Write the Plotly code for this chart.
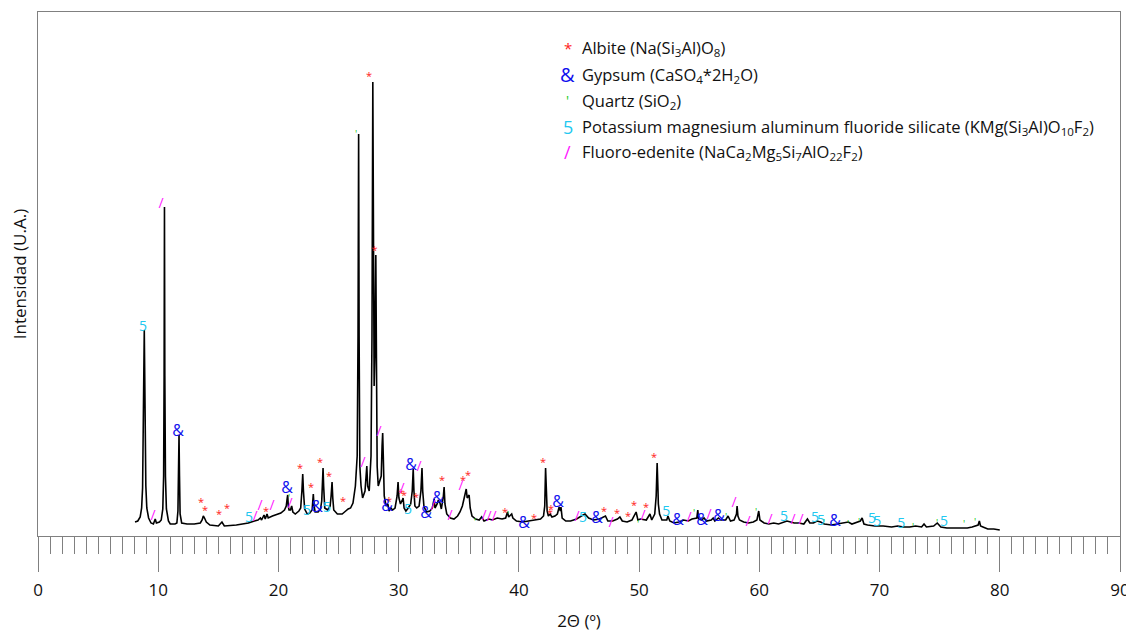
import plotly.graph_objects as go

# ---------------- Diffractogram trace (2theta, intensity in arbitrary units) ----------------
pattern_points = [
    (8.07, 14), (8.30, 15), (8.50, 19), (8.62, 28), (8.70, 48), (8.76, 100), (8.80, 170), (8.84, 206),
    (8.87, 170), (8.91, 100), (8.97, 50), (9.05, 28), (9.20, 18), (9.40, 13), (9.60, 12), (9.75, 17),
    (9.85, 13), (10.10, 14), (10.25, 16), (10.38, 27), (10.45, 60), (10.49, 160), (10.52, 329),
    (10.55, 160), (10.60, 60), (10.68, 27), (10.85, 15), (11.00, 12), (11.40, 12), (11.55, 13),
    (11.64, 25), (11.69, 60), (11.73, 101), (11.77, 60), (11.82, 22), (11.95, 13), (12.40, 12),
    (13.00, 12), (13.50, 13), (13.65, 16), (13.75, 20), (13.85, 18), (14.00, 14), (14.30, 11),
    (15.00, 10), (15.30, 14), (15.50, 10), (16.50, 11), (17.00, 12), (17.50, 13), (18.00, 15),
    (18.30, 16), (18.50, 18), (18.60, 16), (18.80, 21), (18.90, 17), (19.05, 22), (19.15, 18),
    (19.50, 20), (19.80, 21), (20.20, 23), (20.50, 26), (20.65, 30), (20.73, 38), (20.77, 41),
    (20.82, 30), (20.88, 26), (21.00, 26), (21.10, 30), (21.20, 24), (21.40, 22), (21.70, 25),
    (21.85, 28), (21.95, 45), (22.02, 62), (22.08, 45), (22.18, 27), (22.40, 22), (22.60, 23),
    (22.80, 26), (22.87, 40), (22.90, 42), (22.95, 32), (23.05, 24), (23.30, 24), (23.50, 27),
    (23.60, 35), (23.67, 60), (23.71, 68), (23.76, 50), (23.85, 28), (24.10, 26), (24.30, 30),
    (24.38, 40), (24.46, 54), (24.52, 38), (24.60, 26), (24.90, 22), (25.30, 22), (25.50, 24),
    (25.80, 27), (26.00, 28), (26.20, 33), (26.40, 50), (26.55, 80), (26.62, 200), (26.67, 402),
    (26.71, 200), (26.77, 70), (26.87, 50), (27.00, 38), (27.20, 45), (27.30, 65), (27.35, 70),
    (27.42, 50), (27.55, 45), (27.70, 80), (27.78, 200), (27.85, 454), (27.90, 250), (27.96, 150),
    (28.02, 180), (28.10, 281), (28.15, 180), (28.21, 70), (28.30, 50), (28.40, 55), (28.55, 60),
    (28.62, 90), (28.67, 103), (28.72, 80), (28.80, 40), (28.95, 30), (29.10, 32), (29.20, 25),
    (29.35, 28), (29.50, 26), (29.70, 28), (29.87, 40), (29.95, 54), (30.02, 38), (30.15, 32),
    (30.30, 36), (30.37, 38), (30.45, 28), (30.60, 25), (30.80, 28), (31.00, 32), (31.13, 45),
    (31.21, 67), (31.27, 45), (31.35, 30), (31.50, 28), (31.70, 30), (31.85, 45), (31.94, 68),
    (32.00, 45), (32.10, 30), (32.30, 24), (32.60, 25), (32.80, 28), (32.90, 33), (32.95, 37),
    (33.02, 28), (33.20, 32), (33.30, 36), (33.44, 33), (33.55, 27), (33.65, 34), (33.72, 40),
    (33.78, 49), (33.85, 32), (34.00, 22), (34.30, 18), (34.60, 17), (34.90, 20), (35.10, 24),
    (35.30, 30), (35.45, 38), (35.55, 46), (35.62, 47), (35.70, 38), (35.80, 41), (35.86, 41),
    (35.95, 28), (36.10, 20), (36.40, 17), (36.70, 16), (36.90, 19), (37.10, 15), (37.50, 17),
    (37.80, 16), (38.20, 18), (38.60, 17), (38.90, 18), (39.05, 24), (39.15, 19), (39.40, 22),
    (39.50, 18), (39.80, 15), (40.30, 14), (40.80, 15), (41.30, 16), (41.80, 17), (42.05, 20),
    (42.15, 30), (42.22, 68), (42.28, 40), (42.35, 25), (42.45, 20), (42.60, 22), (42.75, 19),
    (43.00, 20), (43.20, 22), (43.35, 29), (43.45, 25), (43.50, 29), (43.60, 18), (43.90, 15),
    (44.30, 15), (44.80, 17), (45.20, 20), (45.50, 22), (45.80, 18), (46.20, 16), (46.70, 17),
    (47.20, 20), (47.40, 15), (47.80, 15), (48.20, 17), (48.40, 19), (48.60, 15), (49.00, 14),
    (49.40, 16), (49.75, 24), (49.90, 16), (50.10, 17), (50.60, 16), (50.90, 22), (51.05, 16),
    (51.30, 22), (51.42, 40), (51.50, 73), (51.56, 50), (51.60, 32), (51.70, 22), (51.90, 16),
    (52.30, 16), (52.40, 20), (52.55, 15), (52.90, 13), (53.30, 14), (53.70, 16), (54.10, 15),
    (54.40, 17), (54.80, 18), (54.88, 26), (54.95, 17), (55.20, 16), (55.40, 18), (55.60, 15),
    (56.00, 16), (56.16, 18), (56.30, 15), (56.60, 18), (56.80, 16), (57.20, 16), (57.40, 20),
    (57.60, 15), (57.90, 16), (58.10, 22), (58.15, 30), (58.22, 20), (58.35, 16), (58.70, 14),
    (59.10, 13), (59.50, 14), (59.80, 16), (59.95, 25), (60.05, 16), (60.40, 13), (60.80, 12),
    (61.20, 13), (61.60, 12), (62.00, 14), (62.30, 15), (62.60, 14), (62.90, 13), (63.30, 13),
    (63.70, 12), (64.00, 17), (64.20, 13), (64.50, 13), (64.80, 15), (65.10, 14), (65.40, 12),
    (66.00, 11), (66.50, 12), (66.80, 13), (67.40, 14), (67.70, 12), (68.00, 13), (68.40, 15),
    (68.55, 18), (68.70, 12), (69.00, 11), (69.60, 10), (70.30, 10), (71.00, 9), (71.50, 10),
    (72.00, 9), (72.50, 9), (73.00, 10), (73.50, 9), (73.70, 12), (73.90, 9), (74.50, 10),
    (74.80, 13), (75.10, 9), (75.60, 8), (76.20, 8), (76.80, 8), (77.30, 8), (77.70, 9),
    (78.20, 11), (78.30, 15), (78.40, 10), (78.60, 9), (79.00, 7), (79.50, 7), (80.00, 6),
]
two_theta = [p[0] for p in pattern_points]
intensity = [p[1] for p in pattern_points]

# ---------------- Phase identification markers ----------------
albite_x = [13.56, 13.89, 15.06, 15.72, 18.97, 21.80, 22.71, 23.46, 24.21, 25.37, 27.54, 28.00,
            29.20, 30.20, 30.45, 31.45, 33.61, 35.36, 35.77, 38.85, 41.26, 42.01, 42.68, 42.60,
            47.09, 48.17, 49.08, 49.58, 50.58, 51.25]
albite_y = [33, 25, 21, 27, 24, 67, 48, 73, 59, 34, 459, 285,
            34, 42, 40, 38, 55, 55, 60, 23, 17, 73, 26, 22,
            24, 22, 19, 30, 28, 78]

gypsum_x = [11.65, 20.72, 23.21, 29.03, 31.03, 32.28, 33.28, 40.43, 43.26, 46.51, 53.24, 55.24,
            56.66, 66.31]
gypsum_y = [104, 47, 28, 29, 70, 22, 37, 12, 33, 17, 15, 15, 19, 14]

quartz_x = [26.46, 20.88, 36.36, 39.10, 49.92, 54.58, 57.24, 59.73, 65.39, 67.39, 68.30, 72.80,
            74.79, 77.04, 77.95]
quartz_y = [401, 37, 13, 20, 11, 22, 18, 23, 12, 11, 13, 8, 12, 11, 13]

mica_x = [8.74, 17.55, 22.38, 24.04, 30.78, 45.34, 52.25, 62.06, 64.64, 65.14, 69.38, 69.80,
          71.80, 75.37]
mica_y = [209, 18, 25, 28, 26, 18, 24, 19, 18, 15, 17, 14, 12, 14]

edenite_x = [10.23, 9.57, 18.05, 18.47, 19.47, 20.97, 27.04, 28.37, 30.28, 31.70, 32.86, 34.28,
             35.19, 37.10, 37.52, 37.94, 44.84, 47.67, 50.33, 54.16, 55.82, 57.90, 59.07, 60.90,
             62.81, 63.48]
edenite_y = [332, 20, 19, 30, 30, 32, 73, 104, 47, 69, 30, 20,
             50, 20, 19, 19, 19, 13, 20, 18, 21, 33, 14, 16,
             16, 16]

phase_symbols = ["*", "&", "'", "5", "/"]
phase_colors = ["#ff2020", "#1010ee", "#22cc22", "#22c8f0", "#ff20ff"]
phase_labels = [
    "Albite (Na(Si<sub>3</sub>Al)O<sub>8</sub>)",
    "Gypsum (CaSO<sub>4</sub>*2H<sub>2</sub>O)",
    "Quartz (SiO<sub>2</sub>)",
    "Potassium magnesium aluminum fluoride silicate (KMg(Si<sub>3</sub>Al)O<sub>10</sub>F<sub>2</sub>)",
    "Fluoro-edenite (NaCa<sub>2</sub>Mg<sub>5</sub>Si<sub>7</sub>AlO<sub>22</sub>F<sub>2</sub>)",
]
phase_sizes = [11, 16, 10, 14, 14]

x_ticks = [0, 10, 20, 30, 40, 50, 60, 70, 80, 90]

FONT = "Open Sans"

fig = go.Figure()
fig.add_trace(go.Scatter(x=two_theta, y=intensity, mode="lines",
                         line=dict(color="black", width=1.6), showlegend=False,
                         hoverinfo="skip"))

phase_data = [(albite_x, albite_y), (gypsum_x, gypsum_y), (quartz_x, quartz_y),
              (mica_x, mica_y), (edenite_x, edenite_y)]
for (px, py), sym, col, sz in zip(phase_data, phase_symbols, phase_colors, phase_sizes):
    fig.add_trace(go.Scatter(x=px, y=py, mode="text", text=[sym] * len(px),
                             textposition="middle center",
                             textfont=dict(color=col, size=sz, family=FONT),
                             showlegend=False, hoverinfo="skip"))

# Custom legend (glyph + label)
legend_rows_y = [0.9313, 0.8798, 0.8302, 0.7805, 0.7328]
for sym, col, sz, lab, yy in zip(phase_symbols, phase_colors, phase_sizes, phase_labels, legend_rows_y):
    fig.add_annotation(x=0.4898, y=yy, xref="paper", yref="paper", text=sym, showarrow=False,
                       font=dict(color=col, size=sz + 4, family=FONT), xanchor="center", yanchor="middle")
    fig.add_annotation(x=0.5009, y=yy, xref="paper", yref="paper", text=lab, showarrow=False,
                       font=dict(color="#111111", size=16.5, family=FONT), xanchor="left", yanchor="middle")

# The page body adds an 8px offset, so margins are reduced accordingly.
fig.update_layout(
    width=1134, height=630,
    margin=dict(l=30, r=22, t=4, b=102),
    paper_bgcolor="white", plot_bgcolor="white",
    font=dict(family=FONT, color="#111111"),
)
fig.update_xaxes(
    range=[0, 90], tickvals=x_ticks, ticks="outside", ticklen=35, tickwidth=1,
    tickcolor="#808080", showline=True, linecolor="#808080", linewidth=1, mirror=True,
    showgrid=False, zeroline=False, tickfont=dict(size=17, color="#111111"),
    ticklabelstandoff=4, automargin=False,
    minor=dict(dtick=1, ticks="outside", ticklen=17, tickcolor="#808080", tickwidth=1, showgrid=False),
    title=dict(text="2Θ (º)", font=dict(size=17, color="#111111"), standoff=14),
)
fig.update_yaxes(
    range=[0, 524], showticklabels=False, ticks="", showgrid=False, zeroline=False,
    showline=True, linecolor="#808080", linewidth=1, mirror=True, automargin=False,
    title=dict(text="Intensidad (U.A.)", font=dict(size=17, color="#111111"), standoff=10),
)

fig.write_html("out.html")
